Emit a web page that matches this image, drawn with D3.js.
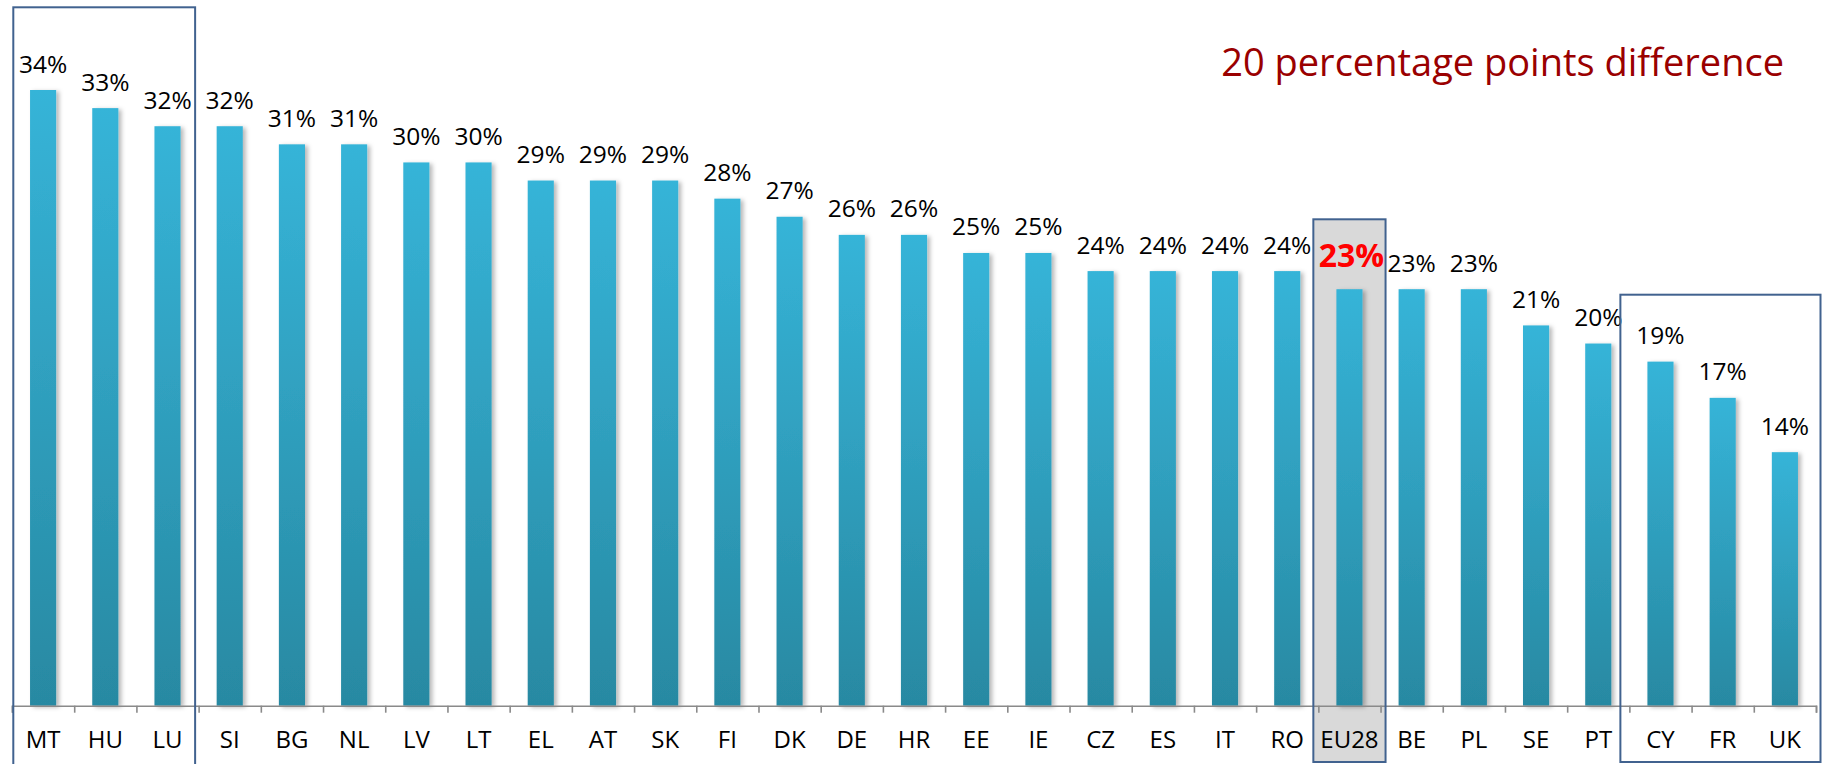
<!DOCTYPE html>
<html>
<head>
<meta charset="utf-8">
<script src="https://cdn.jsdelivr.net/npm/d3@7"></script>
<style>
  body { margin: 0; background: #fff; }
  text { font-family: "Open Sans", "Noto Sans", sans-serif; }
</style>
</head>
<body>
<svg id="chart" width="1825" height="764"></svg>
<script>
// data
const countries = ["MT", "HU", "LU", "SI", "BG", "NL", "LV", "LT", "EL", "AT", "SK", "FI", "DK", "DE", "HR",
  "EE", "IE", "CZ", "ES", "IT", "RO", "EU28", "BE", "PL", "SE", "PT", "CY", "FR", "UK"];
const shares = [34, 33, 32, 32, 31, 31, 30, 30, 29, 29, 29, 28, 27, 26, 26,
  25, 25, 24, 24, 24, 24, 23, 23, 23, 21, 20, 19, 17, 14];
const average = "EU28";
const topGroup = ["MT", "HU", "LU"];
const bottomGroup = ["CY", "FR", "UK"];
const note = "20 percentage points difference";

const svg = d3.select("#chart");
const axisY = 705.7;

let x = d3.scaleBand().domain(countries).range([12, 1816]);
let y = d3.scaleLinear().domain([0, d3.max(shares)]).range([axisY, 90]);
let bw = x.bandwidth();
let barW = bw * 0.42;

let defs = svg.append("defs");
let grad = defs.append("linearGradient")
  .attr("id", "barGrad")
  .attr("x1", 0).attr("y1", 0).attr("x2", 0).attr("y2", 1);
grad.append("stop").attr("offset", "0%").attr("stop-color", "#36b4d8");
grad.append("stop").attr("offset", "100%").attr("stop-color", "#2889a2");

let shadow = defs.append("filter").attr("id", "shadow")
  .attr("x", "-30%").attr("y", "-10%").attr("width", "170%").attr("height", "130%");
shadow.append("feDropShadow")
  .attr("dx", 3).attr("dy", 1.5).attr("stdDeviation", 2)
  .attr("flood-color", "#000").attr("flood-opacity", 0.28);

// grey box behind the EU average
svg.append("rect")
  .attr("x", x(average) - 5)
  .attr("y", 219.3)
  .attr("width", bw + 10)
  .attr("height", 762 - 219.3)
  .attr("fill", "#d9d9d9");

let rows = countries.map((c, i) => ({ c: c, v: shares[i] }));

svg.append("g")
  .selectAll("rect")
  .data(rows)
  .join("rect")
  .attr("x", (d) => x(d.c) + (bw - barW) / 2)
  .attr("y", (d) => y(d.v))
  .attr("width", barW)
  .attr("height", (d) => axisY - y(d.v))
  .attr("fill", "url(#barGrad)")
  .attr("filter", "url(#shadow)");

// axis: ticks sit on the band edges
let edges = d3.scaleLinear().domain([0, countries.length]).range(x.range());
let axis = svg.append("g")
  .attr("transform", `translate(0,${axisY})`)
  .call(d3.axisBottom(edges).ticks(countries.length).tickSize(7).tickSizeOuter(7).tickFormat(""));
axis.select(".domain").attr("stroke", "#8a8a8a").attr("stroke-width", 1.6);
axis.selectAll(".tick line").attr("stroke", "#8a8a8a").attr("stroke-width", 1.6);

svg.append("g")
  .selectAll("text")
  .data(countries)
  .join("text")
  .attr("x", (c) => x(c) + bw / 2)
  .attr("y", 748)
  .attr("text-anchor", "middle")
  .attr("font-size", 24)
  .attr("fill", "#000")
  .text((c) => c);

// value labels
svg.append("g")
  .selectAll("text")
  .data(rows)
  .join("text")
  .attr("x", (d) => x(d.c) + bw / 2 + (d.c === average ? 2 : 0))
  .attr("y", (d) => y(d.v) - (d.c === average ? 22.5 : 17.5))
  .attr("text-anchor", "middle")
  .attr("font-size", (d) => (d.c === average ? 32 : 24.5))
  .attr("font-weight", (d) => (d.c === average ? "bold" : "normal"))
  .attr("fill", (d) => (d.c === average ? "#ff0000" : "#000"))
  .text((d) => d.v + "%");

// outline boxes
const boxStroke = "#41628f";
function outline(x0, y0, x1, y1) {
  svg.append("rect")
    .attr("x", x0).attr("y", y0)
    .attr("width", x1 - x0).attr("height", y1 - y0)
    .attr("fill", "none")
    .attr("stroke", boxStroke)
    .attr("stroke-width", 2);
}
outline(x(topGroup[0]) + 1.3, 7.3, x(topGroup[topGroup.length - 1]) + bw - 3.5, 768);
outline(x(average) - 5, 219.3, x(average) + bw + 5, 762);
outline(x(bottomGroup[0]) - 9, 294.7, x(bottomGroup[bottomGroup.length - 1]) + bw + 4.5, 762);

svg.append("text")
  .attr("x", 1784)
  .attr("y", 75.7)
  .attr("text-anchor", "end")
  .attr("font-size", 38)
  .attr("fill", "#9a0000")
  .text(note);
</script>
</body>
</html>
